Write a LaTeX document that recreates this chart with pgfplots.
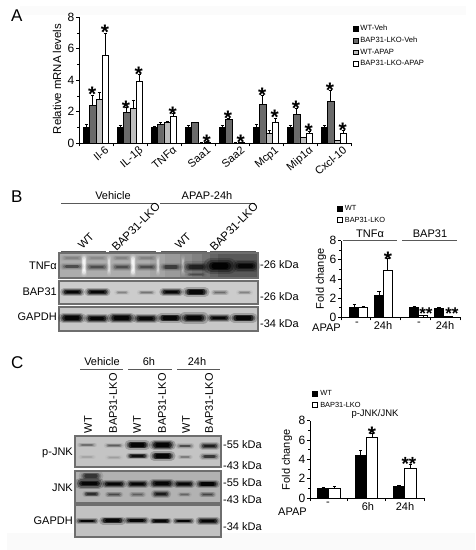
\documentclass[border=0pt]{standalone}
\usepackage{fontspec}
\usepackage{pgfplots}
\pgfplotsset{compat=1.18}
\setmainfont{Liberation Sans}
\newcommand{\fs}[1]{\fontsize{#1}{#1}\selectfont}
\definecolor{dkbar}{HTML}{6A6A6A}
\definecolor{ltbar}{HTML}{BEBEBE}
\definecolor{blotline}{HTML}{6E6E6E}

% one soft stroke of a blot
\newcommand{\layer}[8]{%
  \pgfmathsetmacro\ax{(#2)+(#6)*((#4)-(#2))}%
  \pgfmathsetmacro\ay{(#3)+(#6)*((#5)-(#3))}%
  \pgfmathsetmacro\bx{(#4)-(#6)*((#4)-(#2))}%
  \pgfmathsetmacro\by{(#5)-(#6)*((#5)-(#3))}%
  \pgfmathsetmacro\lw{#7}%
  \pgfmathsetmacro\oo{min(1,#8)}%
  \edef\tmp{\noexpand\addplot[#1,line cap=round,line width=\lw pt,opacity=\oo] coordinates {(\ax,\ay)(\bx,\by)};}\tmp}
\newcommand{\blob}[7]{%
  \layer{#1}{#2}{#3}{#4}{#5}{-0.05}{1.6*(#6)}{0.2*(#7)}%
  \layer{#1}{#2}{#3}{#4}{#5}{0}{1.15*(#6)}{0.35*(#7)}%
  \layer{#1}{#2}{#3}{#4}{#5}{0.06}{0.85*(#6)}{0.6*(#7)}%
  \layer{#1}{#2}{#3}{#4}{#5}{0.14}{0.55*(#6)}{0.85*(#7)}}
\newcommand{\band}[5]{\blob{black}{#1+2}{#3}{#2-2}{#3}{#4}{#5}}
\newcommand{\rect}[6]{\addplot[fill=#5,draw=#6,line width=1.1pt] coordinates {(#1,#2)(#3,#2)(#3,#4)(#1,#4)} --cycle;}
\newcommand{\tint}[6]{\addplot[fill=#5,draw=none,fill opacity=#6] coordinates {(#1,#2)(#3,#2)(#3,#4)(#1,#4)} --cycle;}
\newcommand{\frm}[4]{\addplot[draw=blotline,line width=1.1pt] coordinates {(#1,#2)(#3,#2)(#3,#4)(#1,#4)} --cycle;}
\newcommand{\seg}[3]{\addplot[black!65,line width=0.9pt] coordinates {(#1,#3)(#2,#3)};}
\newcommand{\lab}[5]{\node[anchor=#3,inner sep=0pt,font=\fs{#4}] at (axis cs:#1,#2) {#5};}
\newcommand{\rlab}[5]{\node[anchor=#3,rotate=45,inner sep=0pt,font=\fs{#4}] at (axis cs:#1,#2) {#5};}
\newcommand{\vlab}[3]{\node[anchor=west,rotate=90,inner sep=0pt,font=\fs{11}] at (axis cs:#1,#2) {#3};}
\newcommand{\stars}[4][21]{\node[anchor=center,inner sep=0pt,yshift=-0.22*#1pt,font=\bfseries\fs{#1}] at (axis cs:#2,#3) {#4};}

\pgfplotsset{
  chart/.style={
    scale only axis, clip=false, ybar, bar shift=0pt,
    axis x line=bottom, axis y line=left,
    axis line style={-,line width=0.9pt},
    tick align=outside, tick style={black,line width=0.9pt},
    major tick length=3pt, minor tick length=2pt,
    ymin=0, ymax=8, ytick={0,2,4,6,8}, minor y tick num=1,
    /pgf/number format/assume math mode=true,
    y tick label style={font=\fs{12}, inner sep=1.5pt},
    legend cell align=left,
    error bars/y dir=plus, error bars/y explicit,
    error bars/error bar style={line width=0.9pt,black},
    error bars/error mark options={black,line width=0.9pt,mark size=1.6pt,rotate=90},
    extra x tick style={major tick length=0pt},
  },
  sq/.style={legend image code/.code={\draw[##1,line width=0.8pt,fill opacity=1] (0pt,-2.4pt) rectangle (5pt,2.4pt);}},
}

\begin{document}
\begin{tikzpicture}
\path[use as bounding box] (0pt,0pt) rectangle (475pt,550pt);

% panel A
\begin{axis}[chart, at={(79pt,406.7pt)}, anchor=south west, width=272pt, height=126pt,
  xmin=0, xmax=8, xtick={0,...,8}, xticklabels={},
  bar width=6.3pt,
  extra x ticks={0.5,1.5,2.5,3.5,4.5,5.5,6.5,7.5},
  extra x tick labels={Il-6,IL-1β,TNFα,Saa1,Saa2,Mcp1,Mip1α,Cxcl-10},
  extra x tick style={x tick label style={font=\fs{11},rotate=40,anchor=north east,xshift=6pt,yshift=-6pt,inner sep=1pt}},
  legend style={at={(1.005,0.955)},anchor=north west,draw=none,fill=none,font=\fs{7.6},row sep=0.9pt,inner sep=0pt},
]
\addplot[fill=black,draw=black,line width=0.9pt,bar shift=-9.45pt,sq] coordinates {
 (0.5,1) +- (0,0.2) (1.5,1) +- (0,0.12) (2.5,1) +- (0,0.1) (3.5,1) +- (0,0.15)
 (4.5,1) +- (0,0.12) (5.5,1) +- (0,0.17) (6.5,1) +- (0,0.15) (7.5,1) +- (0,0.15)};
\addlegendentry{WT-Veh}
\addplot[fill=dkbar,draw=black,line width=0.9pt,bar shift=-3.15pt,sq] coordinates {
 (0.5,2.4) +- (0,0.65) (1.5,1.95) +- (0,0.35) (2.5,1.2) +- (0,0.15) (3.5,1.3) +- (0,0.05)
 (4.5,1.5) +- (0,0.05) (5.5,2.45) +- (0,0.6) (6.5,1.85) +- (0,0.35) (7.5,2.65) +- (0,0.7)};
\addlegendentry{BAP31-LKO-Veh}
\addplot[fill=ltbar,draw=black,line width=0.9pt,bar shift=3.15pt,sq] coordinates {
 (0.5,2.8) +- (0,0.45) (1.5,2.2) +- (0,0.55) (2.5,1.35) +- (0,0.05) (3.5,0.02) +- (0,0.01)
 (4.5,0.02) +- (0,0.01) (5.5,0.6) +- (0,0.2) (6.5,0.35) +- (0,0.05) (7.5,0.15) +- (0,0.05)};
\addlegendentry{WT-APAP}
\addplot[fill=white,draw=black,line width=0.9pt,bar shift=9.45pt,sq] coordinates {
 (0.5,5.6) +- (0,1.4) (1.5,3.9) +- (0,0.5) (2.5,1.7) +- (0,0.2) (3.5,0.08) +- (0,0.02)
 (4.5,0.05) +- (0,0.02) (5.5,1.35) +- (0,0.25) (6.5,0.6) +- (0,0.15) (7.5,0.6) +- (0,0.2)};
\addlegendentry{BAP31-LKO-APAP}
\end{axis}

% panel B chart
\begin{axis}[chart, at={(341pt,232.7pt)}, anchor=south west, width=119.5pt, height=76.6pt,
  xmin=0, xmax=119.5, xtick={0,29,59,89,119.5}, xticklabels={}, bar width=9pt,
  extra x ticks={16,42,78,104}, extra x tick labels={-,24h,-,24h},
  extra x tick style={x tick label style={font=\fs{11},yshift=-1pt}},
  legend style={at={(-0.035,1.49)},anchor=north west,draw=none,fill=none,font=\fs{7.4},row sep=0.9pt,inner sep=0pt},
]
\addplot[fill=black,draw=black,line width=0.9pt,sq] coordinates {
 (13.3,1) +- (0,0.3) (38,2.25) +- (0,0.4) (73.3,1) +- (0,0.1) (98,0.95) +- (0,0.1)};
\addlegendentry{WT}
\addplot[fill=white,draw=black,line width=0.9pt,sq] coordinates {
 (22.3,1) +- (0,0.15) (46.7,4.9) +- (0,1.2) (82.3,0.15) +- (0,0.02) (106.5,0.08) +- (0,0.02)};
\addlegendentry{BAP31-LKO}
\end{axis}

% panel C chart
\begin{axis}[chart, at={(310pt,52pt)}, anchor=south west, width=114pt, height=77.3pt,
  xmin=0, xmax=114, xtick={0,37.7,75.7,114}, xticklabels={}, bar width=11.3pt,
  extra x ticks={18,58,95}, extra x tick labels={-,6h,24h},
  extra x tick style={x tick label style={font=\fs{11},yshift=-1pt}},
  legend style={at={(0.02,1.42)},anchor=north west,draw=none,fill=none,font=\fs{7.4},row sep=0.9pt,inner sep=0pt},
]
\addplot[fill=black,draw=black,line width=0.9pt,sq] coordinates {
 (13.2,1) +- (0,0.1) (50.7,4.4) +- (0,0.5) (89,1.15) +- (0,0.1)};
\addlegendentry{WT}
\addplot[fill=white,draw=black,line width=0.9pt,sq] coordinates {
 (24.5,1) +- (0,0.2) (62,6.3) +- (0,0.35) (100.3,3.1) +- (0,0.35)};
\addlegendentry{BAP31-LKO}
\end{axis}

% blots, headings, stars, all in image pixels
\begin{axis}[at={(0pt,0pt)}, anchor=south west, scale only axis, width=475pt, height=550pt,
  xmin=0, xmax=475, ymin=0, ymax=550, y dir=reverse, hide axis, clip=false]
\tint{20}{6}{466}{15}{black}{0.015}
\tint{7}{533}{475}{550}{black}{0.02}
\lab{11}{16}{west}{17}{A}
\lab{11}{197}{west}{17}{B}
\lab{11}{363}{west}{17}{C}

% A text
\node[rotate=90,inner sep=0pt,font=\fs{11.4}] at (axis cs:57,79) {Relative mRNA levels};
\stars{92.3}{90}{*}\stars{105}{28}{*}\stars{126}{104}{*}\stars{138.7}{70}{*}
\stars{172.7}{110}{*}\stars{206.7}{137.7}{*}\stars{228}{114}{*}\stars{240.7}{137.7}{*}
\stars{262.3}{90.7}{*}\stars{274.7}{113}{*}\stars{296}{104}{*}\stars{308.7}{126.7}{*}
\stars{330}{85.7}{*}\stars{342.7}{126}{*}

% B headings
\lab{113}{196}{center}{11}{Vehicle}
\lab{207}{196}{center}{11}{APAP-24h}
\seg{61}{156}{203}\seg{160}{255}{203}
\rlab{86}{241}{center}{11}{WT}
\rlab{136}{227}{center}{11.5}{BAP31-LKO}
\rlab{183}{241}{center}{11}{WT}
\rlab{234}{227}{center}{11.5}{BAP31-LKO}
\seg{61}{106}{251}\seg{109}{156}{251}\seg{161}{207}{251}\seg{210}{256}{251}

% B blots
\rect{59}{253}{258}{278}{black!32}{blotline}
\tint{150}{253}{258}{278}{black}{0.05}
\tint{165}{253}{258}{278}{black}{0.06}
\tint{180}{253}{258}{278}{black}{0.08}
\tint{192}{253}{258}{278}{black}{0.08}
\tint{202}{253}{258}{278}{black}{0.1}
\tint{210}{253}{258}{278}{black}{0.12}
\tint{218}{253}{258}{278}{black}{0.12}
\blob{white}{84}{258}{84}{273}{4}{0.75}
\blob{white}{133}{258}{133}{273}{4}{0.75}
\blob{white}{109}{258}{109}{273}{3}{0.4}
\blob{white}{158}{258}{158}{273}{3}{0.35}
\blob{white}{183}{258}{183}{273}{3}{0.25}
\band{62}{82}{258}{4}{0.12}\band{87}{107}{258}{4}{0.1}\band{113}{130}{258}{4}{0.12}\band{137}{156}{258}{4}{0.12}
\band{62}{82}{266.5}{4.5}{0.35}\band{87}{107}{267}{4.5}{0.35}\band{113}{131}{267}{4.5}{0.35}\band{137}{156}{267}{4.5}{0.35}
\band{162}{180}{267}{5.5}{0.4}\band{186}{206}{267}{7}{0.55}\band{210}{230}{266}{10}{1}\band{236}{255}{266}{8}{0.85}
\band{186}{206}{274.5}{2.5}{0.25}
\frm{59}{253}{258}{278}

\rect{59}{281}{258}{304}{black!20}{blotline}
\band{63}{82}{292}{5}{1}\band{87}{108}{292}{4.5}{1}\band{115}{129}{292.5}{3}{0.2}\band{138}{155}{292.5}{3}{0.25}
\band{162}{181}{292}{5}{1}\band{186}{206}{292}{6}{1}\band{212}{228}{292.5}{3.5}{0.28}\band{237}{252}{292.5}{3}{0.2}

\rect{59}{307}{258}{331}{black!22}{blotline}
\band{62}{82}{318}{6.5}{1}\band{87}{107}{318.5}{5.5}{1}\band{111}{132}{318}{6.5}{1}\band{136}{156}{318.5}{6}{1}
\band{160}{180}{318}{6}{1}\band{184}{204}{318}{7.5}{1}\band{209}{229}{318}{4.5}{1}\band{233}{254}{318}{6}{1}

\lab{57}{266}{east}{11}{TNFα}
\lab{57}{292}{east}{11}{BAP31}
\lab{57}{317}{east}{11}{GAPDH}
\lab{260}{264.5}{west}{11}{-26 kDa}
\lab{260}{297}{west}{11}{-26 kDa}
\lab{260}{324}{west}{11}{-34 kDa}

% B chart text
\lab{370}{234}{center}{11}{TNFα}
\lab{430}{234}{center}{11}{BAP31}
\seg{343}{397}{240.7}\seg{402}{457}{240.7}
\node[rotate=90,inner sep=0pt,font=\fs{11}] at (axis cs:321,279) {Fold change};
\lab{312}{328}{west}{11}{APAP}
\stars{388}{255}{*}\stars[17]{426}{310}{**}\stars[17]{452}{310}{**}

% C headings
\lab{102}{362}{center}{11}{Vehicle}
\lab{149}{362}{center}{11}{6h}
\lab{197}{362}{center}{11}{24h}
\seg{80}{123}{369}\seg{128}{172}{369}\seg{177}{220}{369}
\vlab{88}{433.5}{WT}\vlab{113}{433.5}{BAP31-LKO}\vlab{137}{433.5}{WT}
\vlab{162}{433.5}{BAP31-LKO}\vlab{186}{433.5}{WT}\vlab{209}{433.5}{BAP31-LKO}

% C blots
\rect{75}{436}{221}{467}{black!23}{blotline}
\band{78}{96}{445}{3}{0.25}\band{105}{123}{445.5}{3}{0.32}\band{128}{147}{445}{6}{1}\band{153}{172}{445}{6.5}{1}\band{177}{193}{446}{3.5}{0.4}\band{201}{218}{446}{4.5}{0.7}
\band{79}{95}{457}{3}{0.08}\band{106}{122}{457.5}{3}{0.1}\band{128}{147}{456}{4}{0.85}\band{153}{172}{456}{6}{1}\band{178}{192}{457}{3}{0.2}\band{201}{218}{456.5}{4}{0.5}

\rect{75}{471}{221}{503}{black!30}{blotline}
\blob{black}{84}{476}{98}{476}{6}{0.5}
\band{79}{100}{483.5}{7}{1}\band{104}{124}{484}{5}{1}\band{128}{147}{484}{4.5}{1}\band{152}{172}{483.5}{6}{1}\band{175}{193}{484}{4.5}{1}\band{198}{217}{484}{5.5}{1}
\band{84}{99}{494}{4}{0.55}\band{106}{122}{494.5}{3.5}{0.38}\band{130}{145}{494.5}{3.5}{0.28}\band{153}{169}{494}{4.5}{0.7}\band{178}{191}{494.5}{3}{0.25}\band{200}{215}{494.5}{3.5}{0.4}
\frm{75}{471}{221}{503}

\rect{75}{505}{221}{537}{black!24}{blotline}
\band{77}{97}{521}{3.5}{1}\band{102}{123}{520.5}{5}{1}\band{126}{147}{520.5}{4.5}{1}\band{151}{170}{521}{4}{1}\band{174}{193}{521}{3.5}{1}\band{198}{218}{521}{4.5}{1}

\lab{73}{453}{east}{11}{p-JNK}
\lab{73}{488}{east}{11}{JNK}
\lab{73}{521}{east}{11}{GAPDH}
\lab{223}{445}{west}{11}{-55 kDa}
\lab{223}{466}{west}{11}{-43 kDa}
\lab{223}{483}{west}{11}{-55 kDa}
\lab{223}{500}{west}{11}{-43 kDa}
\lab{223}{527}{west}{11}{-34 kDa}

% C chart text
\lab{375}{414}{center}{9.5}{p-JNK/JNK}
\node[rotate=90,inner sep=0pt,font=\fs{11}] at (axis cs:287,460) {Fold change};
\lab{278}{512}{west}{11}{APAP}
\stars{372}{430}{*}\stars[19]{409}{460}{**}
\end{axis}
\end{tikzpicture}
\end{document}
